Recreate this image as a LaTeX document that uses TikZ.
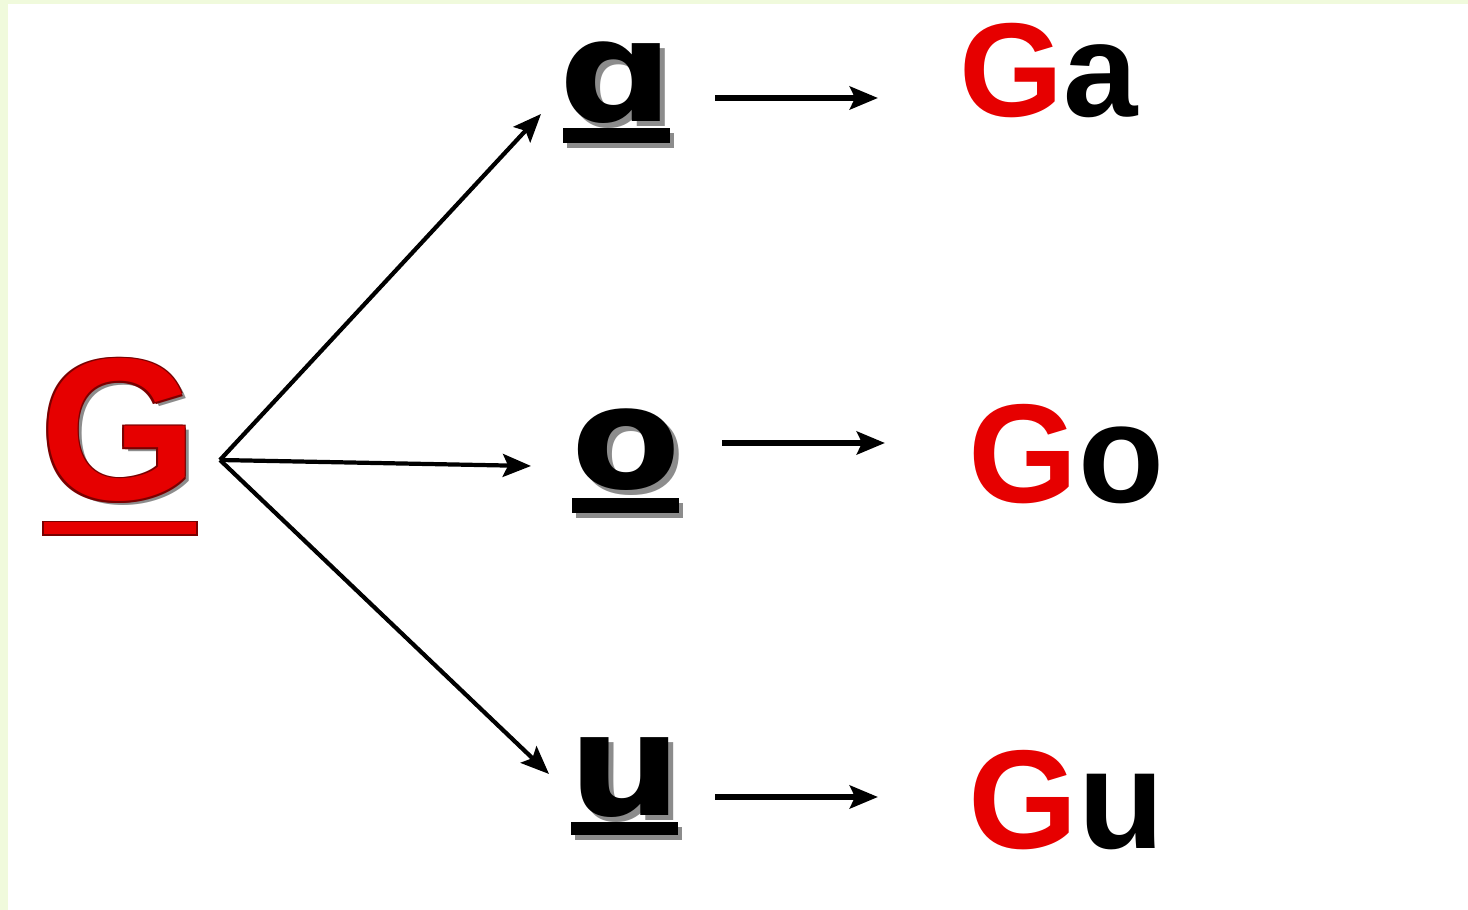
\documentclass[tikz,border=0pt]{standalone}
\usepackage{fontspec}
\setmainfont{Liberation Sans}
\newfontfamily\vowelfont{DejaVu Sans}
\usetikzlibrary{arrows.meta}
\definecolor{cred}{HTML}{E60000}
\definecolor{cdark}{HTML}{7A0000}
\definecolor{cframe}{HTML}{F0FADC}
\definecolor{cshade}{HTML}{8C8C8C}
\newcommand{\widen}[1]{\scalebox{1.12}[1]{#1}}

\tikzset{
  bigletter/.style={inner sep=0pt, anchor=base, font=\bfseries\fontsize{57.5}{57.5}\selectfont},
  vowel/.style={inner sep=0pt, anchor=base, font=\vowelfont\bfseries\fontsize{40.5}{40.5}\selectfont},
  syllable/.style={inner sep=0pt, anchor=base west, font=\bfseries\fontsize{#1}{#1}\selectfont},
  bar/.style={fill=#1, draw=none},
  fork arrow/.style={->, line width=1.2pt},
  short arrow/.style={->, line width=1.7pt}
}

\begin{document}
\begin{tikzpicture}[x=0.01cm, y=-0.01cm, >={Stealth[length=8pt,width=6.5pt,inset=1.5pt]}]
  \useasboundingbox (0,0) rectangle (1468,910);
  \fill[cframe] (0,0) rectangle (1468,910);
  \fill[white] (8,4) rectangle (1468,910);

  % the consonant, outlined and underlined
  \node[bigletter, cshade] (G-s) at (123,504) {G};
  \foreach \dx/\dy [count=\i] in {-1.5/-1.5,1.5/-1.5,-1.5/1.5,1.5/1.5} {
    \node[bigletter, cdark] (G-\i) at (119+\dx,500+\dy) {G};
  }
  \node[bigletter, cred] (G) at (119,500) {G};
  \fill[bar=cdark] (42,521) rectangle (198,536);
  \fill[bar=cred] (44,522) rectangle (196,534);

  % vowels with shadow and underline
  \foreach \n/\v/\x/\y/\ua/\ub in {a/ɑ/617/122/128/143, o/o/626/489/498/513, u/u/625/816/822/835} {
    \node[vowel, cshade] (v\n-s) at (\x+5,\y+5) {\widen{\v}};
    \fill[cshade] (\x-50,\ua+5) rectangle (\x+57,\ub+5);
    \node[vowel] (v\n) at (\x,\y) {\widen{\v}};
    \fill[bar=black] (\x-54,\ua) rectangle (\x+53,\ub);
  }

  % syllables
  \node[syllable=38] (Ga) at (959,117) {{\color{cred}G}a};
  \node[syllable=40] (Go) at (968,503) {{\color{cred}G}o};
  \node[syllable=40] (Gu) at (968,849) {{\color{cred}G}u};

  % arrows
  \coordinate (fork) at (220,460);
  \coordinate (tip a) at (541,114);
  \coordinate (tip o) at (531,466);
  \coordinate (tip u) at (549,774);
  \foreach \n in {a,o,u} {
    \draw[fork arrow] (fork) -- (tip \n);
  }
  \foreach \n/\y/\xa/\xb in {a/98/715/878, o/443/722/885, u/797/715/878} {
    \coordinate (from \n) at (\xa,\y);
    \coordinate (to \n) at (\xb,\y);
    \draw[short arrow] (from \n) -- (to \n);
  }
\end{tikzpicture}
\end{document}
